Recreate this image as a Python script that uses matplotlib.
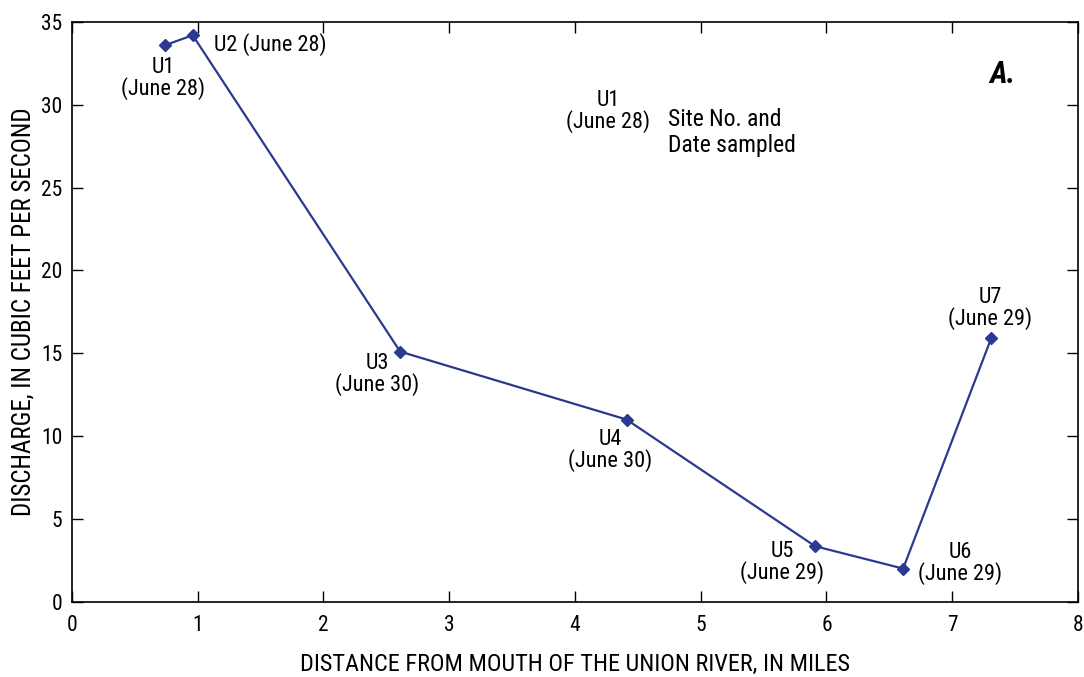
import matplotlib
matplotlib.use("Agg")
import matplotlib.pyplot as plt
from matplotlib import font_manager

names = {f.name for f in font_manager.fontManager.ttflist}
fam = "DejaVu Sans"
for cand in ["Roboto Condensed", "Liberation Sans Narrow", "Open Sans Condensed", "Roboto"]:
    if cand in names:
        fam = cand
        break
plt.rcParams['font.family'] = [fam, 'DejaVu Sans']

sites = ["U1", "U2", "U3", "U4", "U5", "U6", "U7"]
dates = ["June 28", "June 28", "June 30", "June 30", "June 29", "June 29", "June 29"]
distance = [0.74, 0.96, 2.61, 4.41, 5.91, 6.61, 7.31]
discharge = [33.6, 34.2, 15.1, 11.0, 3.35, 2.0, 15.9]
xticks = [0, 1, 2, 3, 4, 5, 6, 7, 8]
yticks = [0, 5, 10, 15, 20, 25, 30, 35]

offsets = [(-2, -33), (21, -9), (-23, -23), (-16, -31), (-33, -16), (57, 5), (-1, 30)]

color = "#2B3990"
fig = plt.figure(figsize=(10.84, 6.77), dpi=100)
ax = fig.add_axes([0.0664, 0.1112, 0.928, 0.8563])
ax.plot(distance, discharge, color=color, lw=1.6, marker='D', ms=6, mfc=color, mec=color)

for i, (s, d) in enumerate(zip(sites, dates)):
    dx, dy = offsets[i]
    if s == "U2":
        txt = f"{s} ({d})"
        ha = 'left'
    else:
        txt = f"{s}\n({d})"
        ha = 'center'
    ax.annotate(txt, (distance[i], discharge[i]), xytext=(dx, dy), textcoords='offset pixels',
                ha=ha, va='center', multialignment='center', fontsize=16, linespacing=0.93)

ax.text(0.533, 0.845, "U1\n(June 28)", transform=ax.transAxes, ha='center', va='center',
        multialignment='center', fontsize=16, linespacing=0.93)
ax.text(0.592, 0.810, "Site No. and\nDate sampled", transform=ax.transAxes, ha='left', va='center',
        fontsize=17, linespacing=1.16)
ax.text(0.925, 0.909, "A.", transform=ax.transAxes, ha='center', va='center',
        fontsize=22, fontweight='bold', fontstyle='italic')

ax.set_xlim(0, 8)
ax.set_ylim(0, 35)
ax.set_xticks(xticks)
ax.set_yticks(yticks)
ax.tick_params(direction='in', top=True, right=True, length=8, width=1, labelsize=15.5)
ax.tick_params(axis='x', pad=9.5)
ax.tick_params(axis='y', pad=7)
for sp in ax.spines.values():
    sp.set_linewidth(1.2)
ax.set_xlabel("DISTANCE FROM MOUTH OF THE UNION RIVER, IN MILES", fontsize=17.5, labelpad=12)
ax.set_ylabel("DISCHARGE, IN CUBIC FEET PER SECOND", fontsize=18, labelpad=4)

fig.savefig("out.png", dpi=100)
